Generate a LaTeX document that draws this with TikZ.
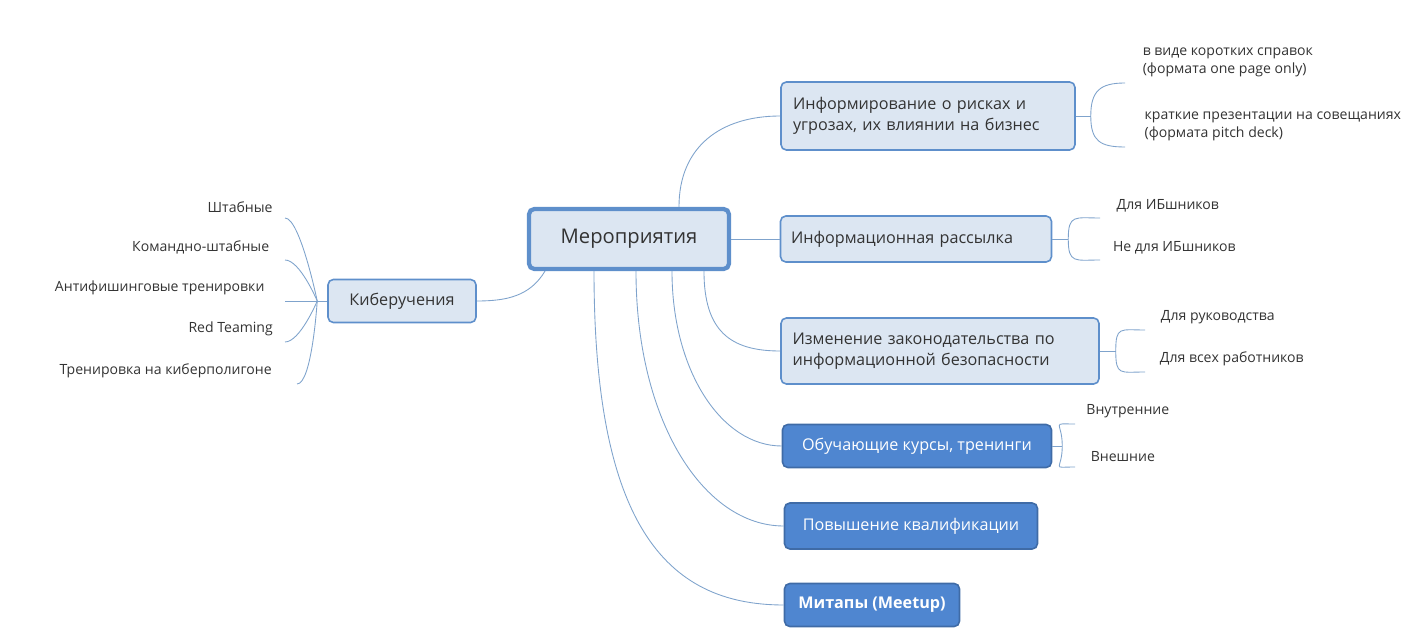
\documentclass[tikz,border=0pt]{standalone}
\usepackage{fontspec}
\setmainfont{Open Sans}
\definecolor{boxfill}{HTML}{DCE6F2}
\definecolor{boxline}{HTML}{5E8FCB}
\definecolor{darkfill}{HTML}{4F86D0}
\definecolor{linkcol}{HTML}{7FA3CC}
\definecolor{leafline}{HTML}{4F7FBF}
\definecolor{txt}{HTML}{333333}
\tikzset{
  topic/.style={draw=boxline, fill=boxfill, rounded corners=3pt, line width=0.9pt,
    text=txt, font=\fontsize{9.2}{12}\selectfont, align=left, inner sep=0pt},
  darktopic/.style={topic, fill=darkfill, draw=darkfill!80!black, text=white},
  leaf/.style={text=txt, font=\fontsize{8}{10.5}\selectfont, inner xsep=4pt, inner ysep=3pt,
    append after command={[draw=leafline, line width=1.2pt]
      (\tikzlastnode.south west) -- (\tikzlastnode.south east)}},
  rleaf/.style={leaf, anchor=south west, align=left},
  lleaf/.style={leaf, anchor=south east, align=right},
  link/.style={draw=linkcol, line width=0.5pt}
}
\begin{document}
\begin{tikzpicture}[x=0.02cm, y=-0.02cm]
  \useasboundingbox (0,0) rectangle (1428,638);
  % main topics
  \node[topic, line width=2.4pt, minimum width=4cm, minimum height=1.2cm, align=center,
    font=\fontsize{11.5}{14}\selectfont] (M) at (629,239) {Мероприятия};
  \node[topic, minimum width=5.88cm, minimum height=1.36cm, text width=5.4cm] (I) at (928,116)
    {Информирование о рисках и\\угрозах, их влиянии на бизнес};
  \node[topic, minimum width=5.42cm, minimum height=0.92cm, text width=5cm] (R) at (916,239)
    {Информационная рассылка};
  \node[topic, minimum width=6.36cm, minimum height=1.32cm, text width=5.9cm] (Z) at (940,351)
    {Изменение законодательства по\\информационной безопасности};
  \node[darktopic, minimum width=5.38cm, minimum height=0.86cm, align=center] (O) at (917,446)
    {Обучающие курсы, тренинги};
  \node[darktopic, minimum width=5.06cm, minimum height=0.92cm, align=center] (P) at (911,526)
    {Повышение квалификации};
  \node[darktopic, minimum width=3.5cm, minimum height=0.86cm, align=center,
    font=\fontsize{9.2}{12}\selectfont\bfseries] (T) at (872,605) {Митапы (Meetup)};
  \node[topic, minimum width=2.96cm, minimum height=0.86cm, align=center] (K) at (402,301)
    {Киберучения};
  % leaves
  \node[rleaf, minimum width=4.1cm] (I1) at (1125,83) {в виде коротких справок\\(формата one page only)};
  \node[rleaf, minimum width=5.9cm] (I2) at (1125,147) {краткие презентации на совещаниях\\(формата pitch deck)};
  \node[rleaf, minimum width=2.7cm] (R1) at (1100,218) {Для ИБшников};
  \node[rleaf, minimum width=2.96cm] (R2) at (1100,260) {Не для ИБшников};
  \node[rleaf, minimum width=2.9cm] (Z1) at (1145,330) {Для руководства};
  \node[rleaf, minimum width=3.46cm] (Z2) at (1145,372) {Для всех работников};
  \node[rleaf, minimum width=2.1cm] (O1) at (1075,424) {Внутренние};
  \node[rleaf, minimum width=1.9cm] (O2) at (1075,467) {Внешние};
  \node[lleaf, minimum width=1.78cm] (K1) at (285,218) {Штабные};
  \node[lleaf, minimum width=3.36cm] (K2) at (285,260) {Командно-штабные};
  \node[lleaf, minimum width=5cm] (K3) at (285,301) {Антифишинговые тренировки};
  \node[lleaf, minimum width=2.16cm] (K4) at (285,342) {Red Teaming};
  \node[lleaf, minimum width=5.24cm] (K5) at (297,384) {Тренировка на киберполигоне};
  % links from centre
  \draw[link] ([xshift=1cm]M.north) .. controls +(0,-60) and +(-60,0) .. (I.west);
  \draw[link] (M.east) -- (R.west);
  \draw[link] ([xshift=1.5cm]M.south) .. controls +(0,60) and +(-50,0) .. (Z.west);
  \draw[link] ([xshift=0.86cm]M.south) .. controls +(0,100) and +(-60,0) .. (O.west);
  \draw[link] ([xshift=0.14cm]M.south) .. controls +(0,150) and +(-80,0) .. (P.west);
  \draw[link] ([xshift=-0.7cm]M.south) .. controls +(0,250) and +(-120,0) .. (T.west);
  \draw[link] ([xshift=-1.68cm]M.south) .. controls +(-15,25) and +(30,0) .. (K.east);
  % links to leaves
  \foreach \p/\a/\b/\d in {I/I1/I2/15, R/R1/R2/16, Z/Z1/Z2/16, O/O1/O2/10}{
    \draw[link] (\p.east) -- ++(\d,0) coordinate (\p-j);
    \draw[link] (\p-j) .. controls +(0,-25) and +(-25,0) .. (\a.south west);
    \draw[link] (\p-j) .. controls +(0,25) and +(-25,0) .. (\b.south west);
  }
  \draw[link] (K.west) -- ++(-10,0) coordinate (K-j);
  \foreach \l/\c in {K1/60, K2/40, K4/30, K5/60}{
    \draw[link] (K-j) .. controls +(0,0) and +(15,0) .. (\l.south east);
  }
  \draw[link] (K-j) -- (K3.south east);
\end{tikzpicture}
\end{document}
